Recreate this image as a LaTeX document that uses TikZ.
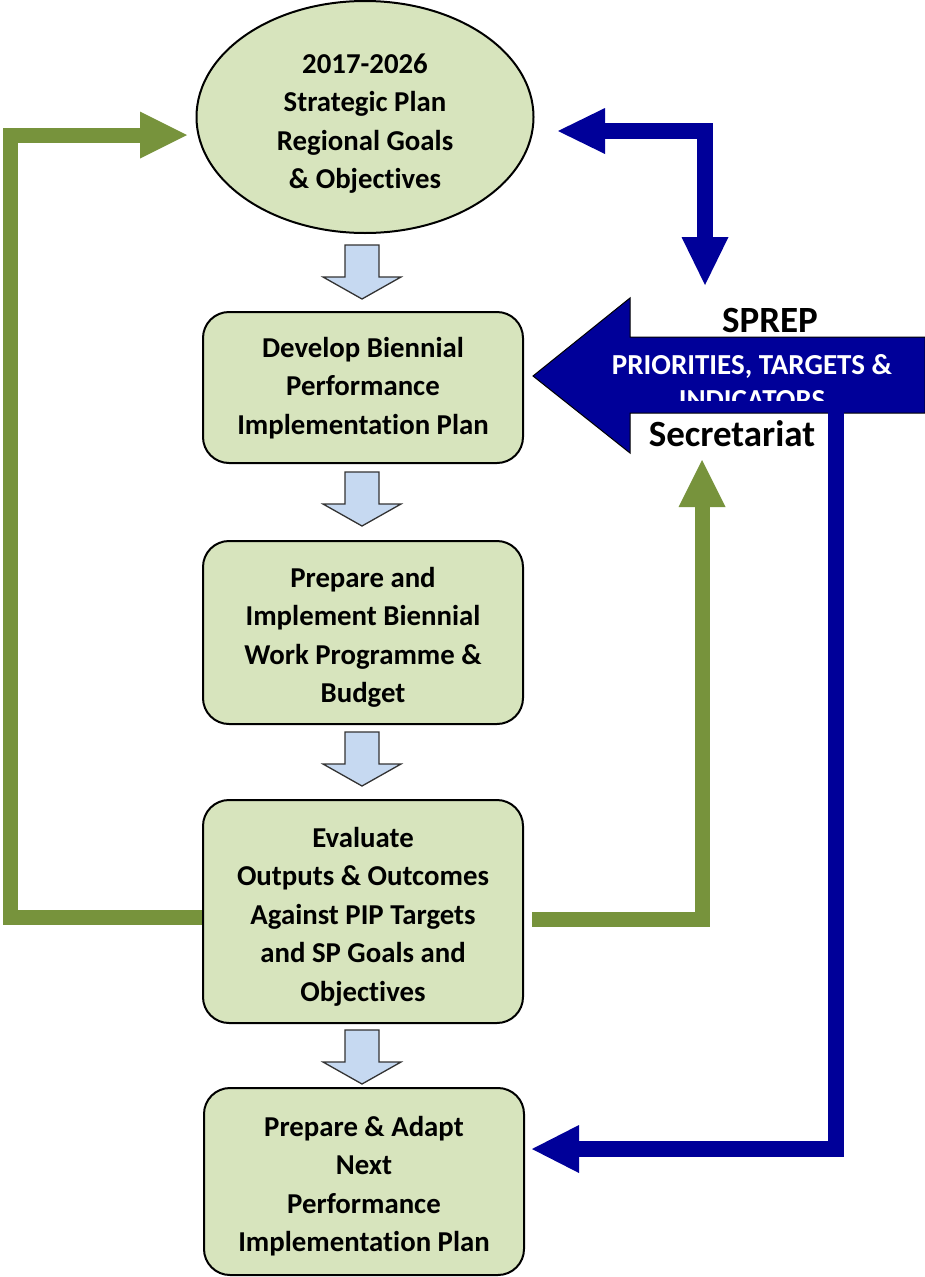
\documentclass[tikz,border=0pt]{standalone}
\usepackage{fontspec}
\setmainfont{Carlito}[Ligatures=NoCommon]
\usetikzlibrary{arrows.meta,shapes.geometric}
\definecolor{boxfill}{HTML}{D7E4BD}
\definecolor{garrow}{HTML}{77933C}
\definecolor{barrow}{HTML}{000099}
\definecolor{smallarr}{HTML}{C6D9F1}
\newcommand\mytop[1]{\rule{0pt}{#1pt}}
\newcommand\mybot{\rule[-8pt]{0pt}{8pt}}
\begin{document}
\begin{tikzpicture}[x=1pt,y=-1pt,
  boxtxt/.style={font=\fontsize{28.8}{38.5}\selectfont\bfseries, align=center, inner sep=0pt},
  box/.style={boxtxt, draw=black, line width=2pt, fill=boxfill, rounded corners=26pt, minimum width=320pt},
  ell/.style={boxtxt, ellipse, draw=black, line width=2pt, fill=boxfill},
  sptxt/.style={anchor=base, inner sep=0pt, font=\fontsize{37}{42}\selectfont\bfseries},
  wtxt/.style={anchor=base, inner sep=0pt, text=white, font=\fontsize{29}{38}\selectfont\bfseries},
  garr/.style={draw=garrow, line width=15pt, line join=miter, -{Triangle[length=47pt,width=47pt,line width=0pt]}},
  barr/.style={draw=barrow, line width=16pt, line join=miter, -{Triangle[length=47pt,width=48pt,line width=0pt]}},
  pics/blockarr/.style={code={\draw[draw=black!80, line width=1.3pt, fill=smallarr, line join=miter]
     (-17,0) -- (17,0) -- (17,32) -- (39,32) -- (0,54) -- (-39,32) -- (-17,32) -- cycle;}}
]
\useasboundingbox (0,0) rectangle (924,1277);

% main column
\node[ell, minimum width=337pt, minimum height=232pt] (ell) at (365,117)
  {\mytop{35.5}2017-2026\\Strategic Plan\\Regional Goals\\\& Objectives\mybot};
\node[box, minimum height=151pt] (b1) at (363,387.5)
  {\mytop{24}Develop Biennial\\Performance\\Implementation Plan\mybot};
\node[box, minimum height=183pt] (b2) at (363,632.5)
  {\mytop{32.5}Prepare and\\Implement Biennial\\Work Programme \&\\Budget\mybot};
\node[box, minimum height=223pt] (b3) at (363,911.5)
  {\mytop{33}Evaluate\\Outputs \& Outcomes\\Against PIP Targets\\and SP Goals and\\Objectives\mybot};
\node[box, minimum height=187pt] (b4) at (364,1181.5)
  {\mytop{32.5}Prepare \& Adapt\\Next\\Performance\\Implementation Plan\mybot};

% small block arrows
\pic at (362,245) {blockarr};
\pic at (362,472) {blockarr};
\pic at (362,732) {blockarr};
\pic at (362,1030) {blockarr};

% SPREP big arrow
\path[draw=black, line width=1pt, fill=barrow, line join=miter]
  (533,376) -- (630,298) -- (630,337) -- (925,337) -- (925,413) -- (630,413) -- (630,453) -- cycle;
\node[sptxt] (sprep) at (770,332) {SPREP};
\node[wtxt] (prio) at (752,374) {PRIORITIES, TARGETS \&};
\begin{scope}
  \clip (560,380) rectangle (924,400);
  \node[wtxt] (indic) at (752,409) {INDICATORS};
\end{scope}
\node[sptxt] (secr) at (732,446) {Secretariat};

% green connectors
\coordinate (gLc) at (10,135);
\coordinate (gL) at (187,135);
\draw[garr] ([yshift=-5.5pt]b3.west) -| (gLc) -- (gL);
\coordinate (gRt) at (702,460);
\draw[garr] ([xshift=8pt,yshift=-7.5pt]b3.east) -| (gRt);

% blue connectors
\coordinate (bT1) at (558,131);
\coordinate (bT2) at (705,285);
\draw[barr, {Triangle[length=47pt,width=46pt,line width=0pt]}-{Triangle[length=48pt,width=47pt,line width=0pt]}] (bT1) -| (bT2);
\coordinate (bB0) at (836,406);
\coordinate (bBt) at (532,1149);
\draw[barr] (bB0) |- (bBt);
\end{tikzpicture}
\end{document}
